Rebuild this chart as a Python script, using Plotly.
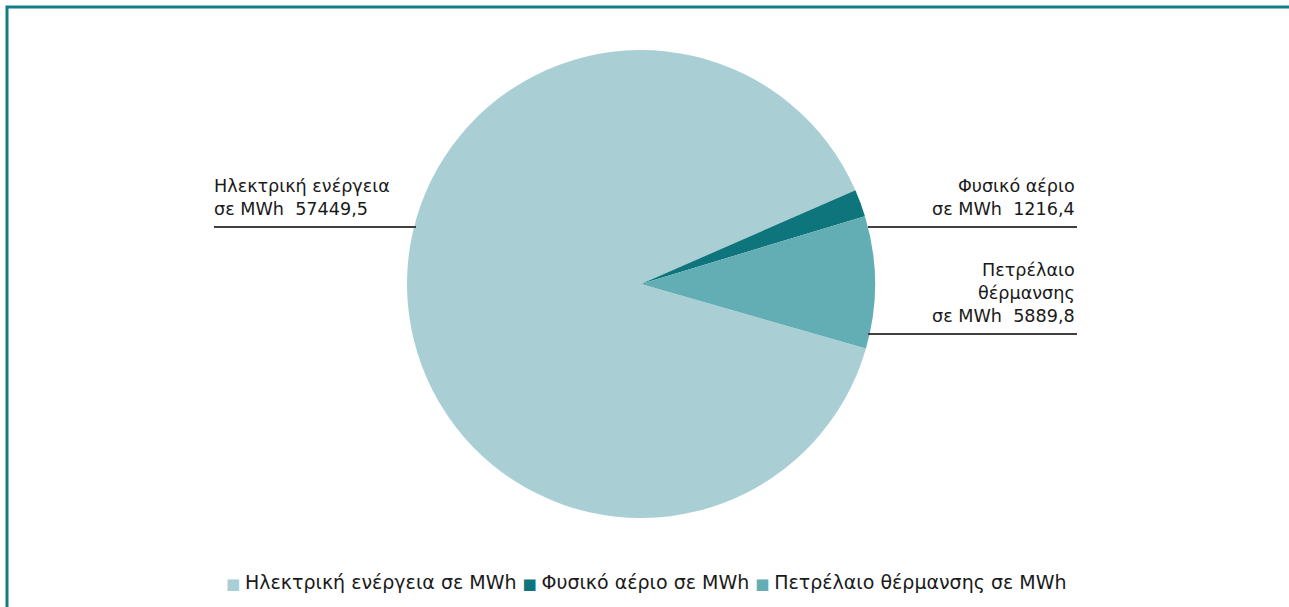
import plotly.graph_objects as go

W, H = 1289, 607

labels = ['Ηλεκτρική ενέργεια σε MWh', 'Φυσικό αέριο σε MWh', 'Πετρέλαιο θέρμανσης σε MWh']
values = [57449.5, 1216.4, 5889.8]
callouts = ['Ηλεκτρική ενέργεια<br>σε MWh  57449,5', 'Φυσικό αέριο<br>σε MWh  1216,4', 'Πετρέλαιο<br>θέρμανσης<br>σε MWh  5889,8']
colors = ['#A9CFD4', '#0E757C', '#63ADB5']

FONT = 'DejaVu Sans'


def px_x(x):
    return x / W


def px_y(y):
    return 1 - y / H


fig = go.Figure(go.Pie(
    labels=labels, values=values, sort=False, direction='clockwise', rotation=106,
    marker=dict(colors=colors, line=dict(width=0)),
    textinfo='none', hoverinfo='label+value', showlegend=False,
    domain=dict(x=[px_x(407), px_x(875)], y=[px_y(518), px_y(50)]),
))

# leader lines
lines = [(214, 416, 227), (868, 1077, 227), (868, 1077, 334)]
for x0, x1, y in lines:
    fig.add_shape(type='line', xref='paper', yref='paper', x0=px_x(x0), x1=px_x(x1),
                  y0=px_y(y), y1=px_y(y), line=dict(color='#404040', width=2))

# callout labels
fig.add_annotation(text=callouts[0], x=px_x(212), y=px_y(221), xref='paper', yref='paper',
                   xanchor='left', yanchor='bottom', align='left', showarrow=False)
fig.add_annotation(text=callouts[1], x=px_x(1077), y=px_y(221), xref='paper', yref='paper',
                   xanchor='right', yanchor='bottom', align='right', showarrow=False)
fig.add_annotation(text=callouts[2], x=px_x(1077), y=px_y(328), xref='paper', yref='paper',
                   xanchor='right', yanchor='bottom', align='right', showarrow=False)

# legend drawn as one line of text with coloured squares
legend_text = ' '.join(f"<span style='color:{c};font-size:15px'>■ </span>{l}" for c, l in zip(colors, labels))
fig.add_annotation(text=legend_text, x=px_x(646), y=px_y(582), xref='paper', yref='paper',
                   xanchor='center', yanchor='middle', showarrow=False, font=dict(size=19))

# frame
fig.add_shape(type='rect', xref='paper', yref='paper', x0=px_x(7), x1=1.02, y0=-0.02, y1=px_y(7),
              line=dict(color='#137C85', width=3))

fig.update_layout(
    width=W, height=H,
    margin=dict(l=0, r=0, t=0, b=0),
    paper_bgcolor='white', plot_bgcolor='white',
    font=dict(family=FONT, size=17.6, color='#1a1a1a'),
    showlegend=False,
)

fig.write_html('out.html', config={'displayModeBar': False},
               post_script="document.body.style.margin='0';")
